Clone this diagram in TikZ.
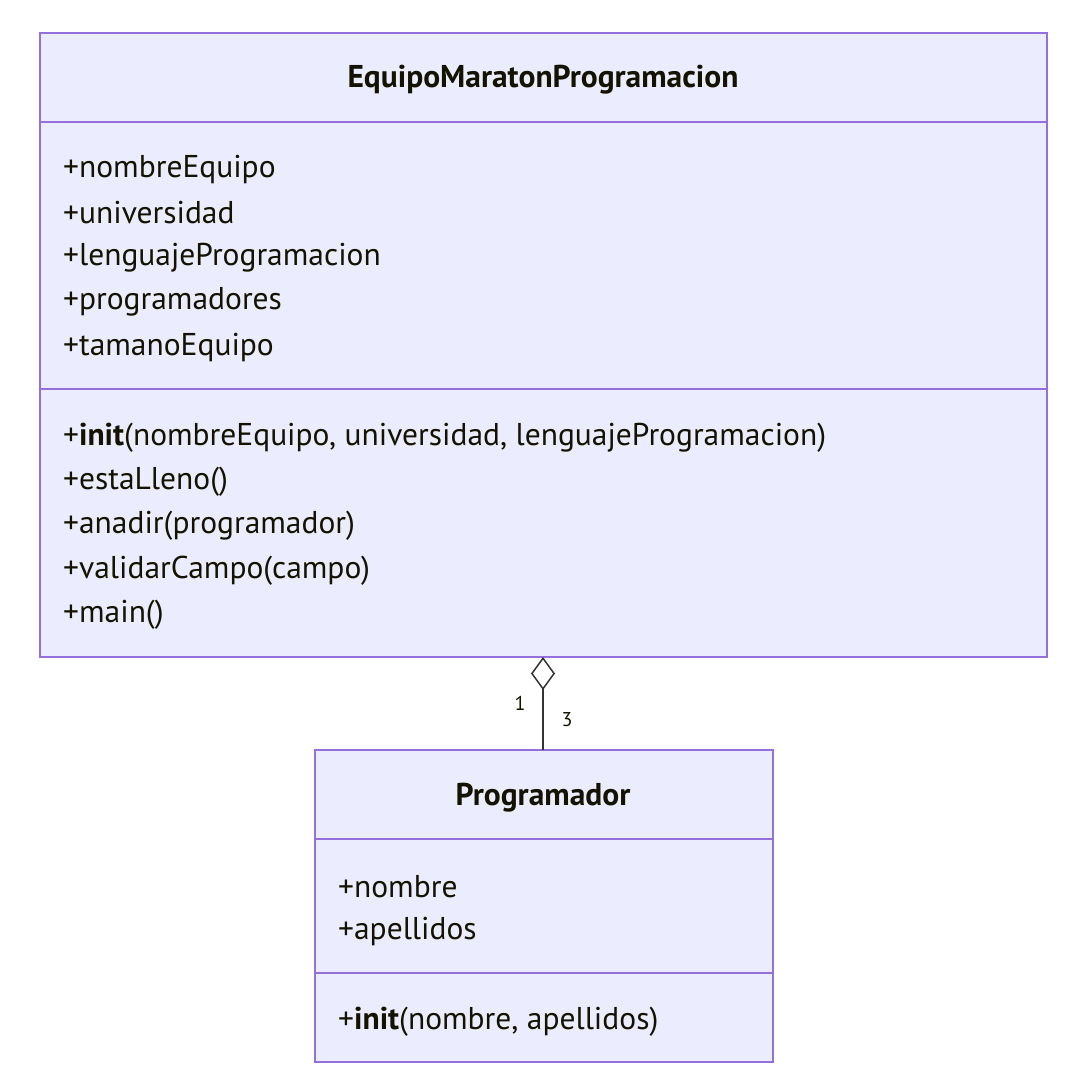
\documentclass[tikz,border=0pt]{standalone}
\usepackage{fontspec}
\setmainfont{PT Sans}
\usetikzlibrary{arrows.meta}
\definecolor{boxfill}{HTML}{ECECFF}
\definecolor{boxline}{HTML}{9370DB}
\definecolor{txt}{HTML}{131300}
\definecolor{conn}{HTML}{333333}
\tikzset{
  classbox/.style={draw=boxline, fill=boxfill, line width=1.5pt, inner sep=0pt},
  divider/.style={draw=boxline, line width=1.5pt},
  member/.style={anchor=west, inner sep=0pt, text=txt, font=\fontsize{31.5}{36}\selectfont},
  title/.style={inner sep=0pt, text=txt, font=\fontsize{31.5}{36}\selectfont\bfseries},
  mult/.style={inner sep=0pt, text=txt, font=\fontsize{20}{24}\selectfont},
}
\begin{document}
\begin{tikzpicture}[x=1pt,y=-1pt]
\useasboundingbox (0,0) rectangle (1086,1086);
% top class
\draw[classbox] (40,33) rectangle (1047,657);
\coordinate (eqS) at (543,657);
\draw[divider] (40,122) -- (1047,122);
\draw[divider] (40,389) -- (1047,389);
\node[title] (eqT) at (543,80) {EquipoMaratonProgramacion};
\node[member] (a1) at (63,169) {+nombreEquipo};
\node[member] (a2) at (63,213) {+universidad};
\node[member] (a3) at (63,258) {+lenguajeProgramacion};
\node[member] (a4) at (63,302) {+programadores};
\node[member] (a5) at (63,347) {+tamanoEquipo};
\node[member] (m1) at (63,438) {+\textbf{init}(nombreEquipo, universidad, lenguajeProgramacion)};
\node[member] (m2) at (63,482) {+estaLleno()};
\node[member] (m3) at (63,526) {+anadir(programador)};
\node[member] (m4) at (63,571) {+validarCampo(campo)};
\node[member] (m5) at (63,615) {+main()};
% bottom class
\draw[classbox] (315,750) rectangle (773,1062);
\coordinate (prN) at (543,750);
\draw[divider] (315,839) -- (773,839);
\draw[divider] (315,973) -- (773,973);
\node[title] (prT) at (543,798) {Programador};
\node[member] (b1) at (338,887) {+nombre};
\node[member] (b2) at (338,931) {+apellidos};
\node[member] (b3) at (338,1022) {+\textbf{init}(nombre, apellidos)};
% connector
\draw[conn, line width=1.5pt, -{Diamond[open, length=33pt, width=24pt, line width=1.5pt]}] (prN) -- (eqS);
\node[mult] (l1) at (520,703) {1};
\node[mult] (l3) at (567,720) {3};
\end{tikzpicture}
\end{document}
